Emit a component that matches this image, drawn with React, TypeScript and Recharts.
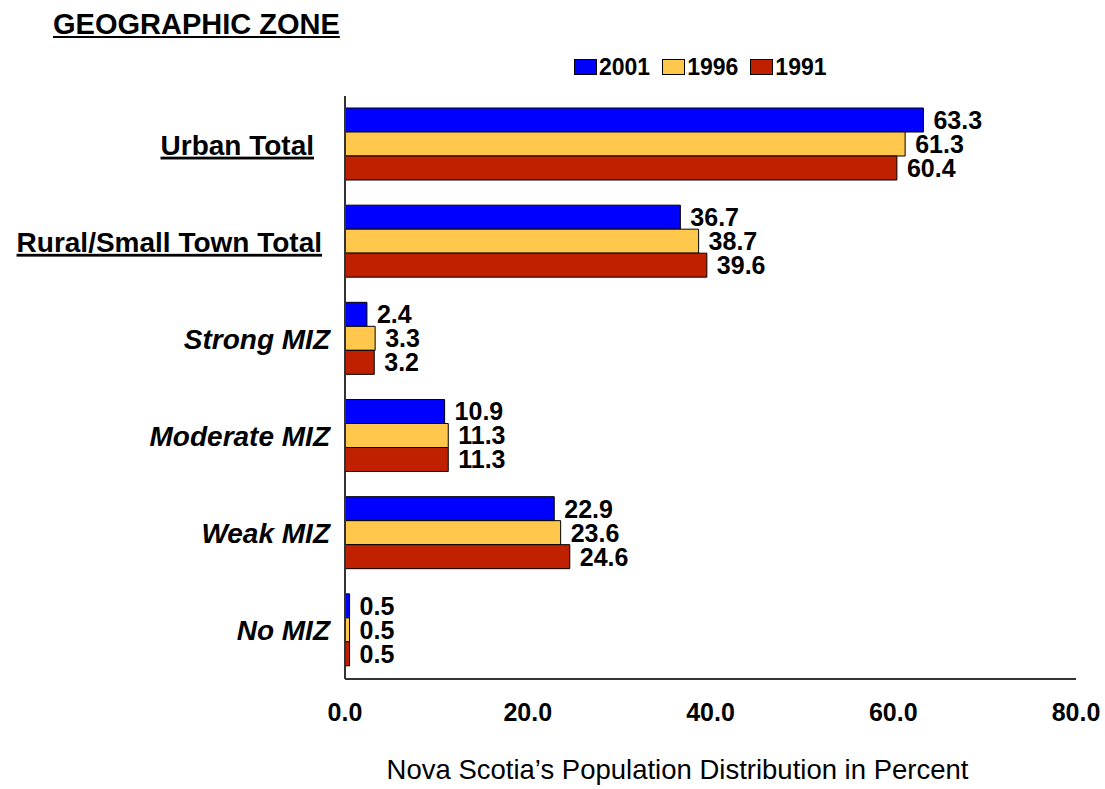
import { Bar, BarChart, LabelList, XAxis, YAxis, Label } from "recharts"

const zones = [
  "Urban Total",
  "Rural/Small Town Total",
  "Strong MIZ",
  "Moderate MIZ",
  "Weak MIZ",
  "No MIZ",
]
const pct2001 = [63.3, 36.7, 2.4, 10.9, 22.9, 0.5]
const pct1996 = [61.3, 38.7, 3.3, 11.3, 23.6, 0.5]
const pct1991 = [60.4, 39.6, 3.2, 11.3, 24.6, 0.5]
const xTicks = [0, 20, 40, 60, 80]

const seriesKeys = ["y2001", "y1996", "y1991"]
const seriesNames = ["2001", "1996", "1991"]
const seriesColors = ["#0000ff", "#ffc84c", "#bf2100"]

const data = zones.map((name, i) => ({
  name,
  y2001: pct2001[i],
  y1996: pct1996[i],
  y1991: pct1991[i],
}))

const FONT = "'Liberation Sans', Arial, sans-serif"
const NARROW = "'Liberation Sans Narrow', 'Arial Narrow', 'Liberation Sans', sans-serif"

function ZoneTick(props: any) {
  const { x, y, payload } = props
  const label: string = payload.value
  const isTotal = label.includes("Total")
  // the totals sit a little further left in the original
  const endX = label === "Urban Total" ? x - 23 : label.includes("Rural") ? x - 15 : x - 7
  return (
    <text
      x={endX}
      y={y}
      dy="0.36em"
      textAnchor="end"
      fontFamily={FONT}
      fontSize={28}
      fontWeight="bold"
      fontStyle={isTotal ? "normal" : "italic"}
      textDecoration={isTotal ? "underline" : "none"}
      fill="#000"
    >
      {label}
    </text>
  )
}

function LegendBox() {
  return (
    <div
      style={{
        position: "absolute",
        left: 574,
        top: 53,
        display: "flex",
        gap: 12,
        fontFamily: FONT,
        fontWeight: "bold",
        fontSize: 23,
        lineHeight: "28px",
      }}
    >
      {seriesNames.map((n, i) => (
        <div key={n} style={{ display: "flex", alignItems: "center" }}>
          <span
            style={{
              display: "inline-block",
              width: 21,
              height: 14,
              background: seriesColors[i],
              border: "1px solid #000",
              marginRight: 2,
            }}
          />
          <span>{n}</span>
        </div>
      ))}
    </div>
  )
}

export default function App() {
  return (
    <div style={{ position: "absolute", left: 0, top: 0, width: 1105, height: 789, background: "#fff" }}>
      <div
        style={{
          position: "absolute",
          left: 53,
          top: 8,
          fontFamily: FONT,
          fontWeight: "bold",
          fontSize: 29,
          textDecoration: "underline",
          color: "#000",
        }}
      >
        GEOGRAPHIC ZONE
      </div>
      <LegendBox />
      <BarChart
        width={1105}
        height={789}
        data={data}
        layout="vertical"
        margin={{ top: 96, right: 29, bottom: 0, left: 0 }}
        barCategoryGap={12}
        barGap={0}
      >
        <XAxis
          type="number"
          domain={[0, 80]}
          ticks={xTicks}
          tickFormatter={(v) => v.toFixed(1)}
          tickLine={false}
          axisLine={{ stroke: "#333", strokeWidth: 2 }}
          tickMargin={18}
          height={110}
          tick={{ fill: "#000", fontFamily: NARROW, fontSize: 25, fontWeight: "bold" }}
        >
          <Label
            value="Nova Scotia’s Population Distribution in Percent"
            position="insideBottom"
            offset={10}
            style={{ fill: "#000", fontFamily: FONT, fontSize: 27.5 }}
            dx={-33}
          />
        </XAxis>
        <YAxis
          type="category"
          dataKey="name"
          width={345}
          tickLine={false}
          axisLine={{ stroke: "#333", strokeWidth: 2 }}
          tick={<ZoneTick />}
        />
        {seriesKeys.map((k, i) => (
          <Bar
            key={k}
            dataKey={k}
            name={seriesNames[i]}
            fill={seriesColors[i]}
            stroke="#000"
            strokeWidth={1}
            isAnimationActive={false}
          >
            <LabelList
              dataKey={k}
              position="right"
              offset={10}
              formatter={(v: any) => Number(v).toFixed(1)}
              style={{ fill: "#000", fontFamily: FONT, fontSize: 25, fontWeight: "bold" }}
            />
          </Bar>
        ))}
      </BarChart>
    </div>
  )
}
